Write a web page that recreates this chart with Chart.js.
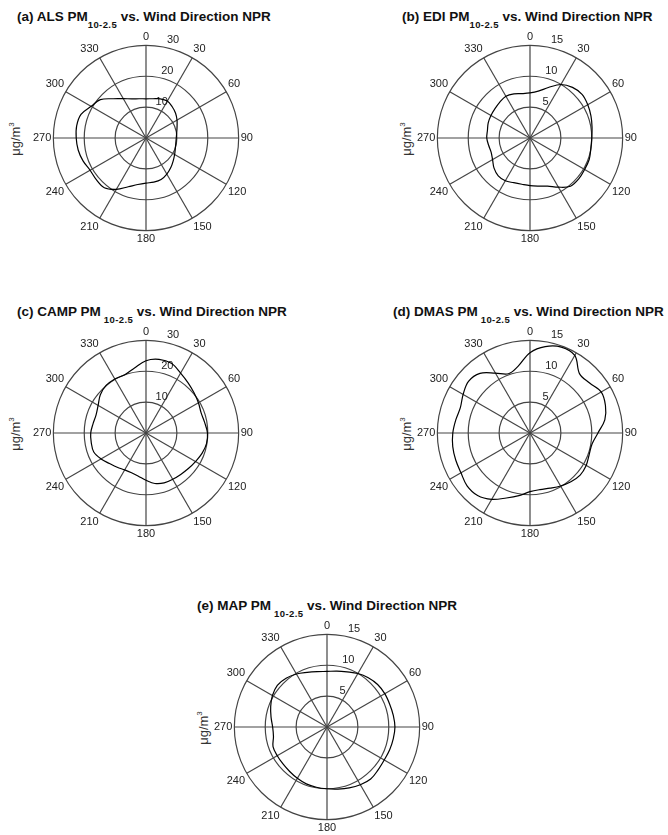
<!DOCTYPE html>
<html>
<head>
<meta charset="utf-8">
<script src="https://cdn.jsdelivr.net/npm/chart.js@4.4.1/dist/chart.umd.min.js"></script>
<style>
  body { margin: 0; background: #fff; }
  #page { position: relative; width: 668px; height: 835px; overflow: hidden; font-family: "Liberation Sans", Arial, sans-serif; }
  .title { position: absolute; font-weight: bold; font-size: 13.5px; line-height: 16px; color: #111; white-space: nowrap; }
  .title .sub { position: relative; top: 7px; font-size: 9.5px; letter-spacing: 0.4px; }
  .title .gap { margin-left: 3px; }
  .ylab { position: absolute; font-size: 13px; color: #333; white-space: nowrap; transform: translate(-50%, -50%) rotate(-90deg); }
  .ylab sup { font-size: 8px; }
  canvas { position: absolute; }
</style>
</head>
<body>
<div id="page">
  <div class="title" style="left:17px; top:9px">(a) ALS PM<span class="sub">10-2.5</span> vs. Wind Direction NPR</div>
  <div class="title" style="left:402px; top:9px">(b) EDI PM<span class="sub">10-2.5</span> vs. Wind Direction NPR</div>
  <div class="title" style="left:17px; top:304px">(c) CAMP PM<span class="sub gap">10-2.5</span> vs. Wind Direction NPR</div>
  <div class="title" style="left:393px; top:304px">(d) DMAS PM<span class="sub gap">10-2.5</span> vs. Wind Direction NPR</div>
  <div class="title" style="left:197px; top:598px">(e) MAP PM<span class="sub gap">10-2.5</span> vs. Wind Direction NPR</div>

  <div class="ylab" style="left:15px; top:139px">&mu;g/m<sup>3</sup></div>
  <div class="ylab" style="left:406px; top:139px">&mu;g/m<sup>3</sup></div>
  <div class="ylab" style="left:15px; top:434px">&mu;g/m<sup>3</sup></div>
  <div class="ylab" style="left:406px; top:434px">&mu;g/m<sup>3</sup></div>
  <div class="ylab" style="left:203px; top:728px">&mu;g/m<sup>3</sup></div>

  <canvas id="chartA" width="227" height="227" style="left:30px; top:25px"></canvas>
  <canvas id="chartB" width="227" height="227" style="left:414px; top:25px"></canvas>
  <canvas id="chartC" width="227" height="227" style="left:30px; top:320px"></canvas>
  <canvas id="chartD" width="227" height="227" style="left:414px; top:320px"></canvas>
  <canvas id="chartE" width="227" height="227" style="left:211px; top:614px"></canvas>
</div>
<script>
// wind direction, degrees
const directions = [0, 10, 20, 30, 40, 50, 60, 70, 80, 90, 100, 110, 120, 130, 140, 150, 160, 170,
  180, 190, 200, 210, 220, 230, 240, 250, 260, 270, 280, 290, 300, 310, 320, 330, 340, 350];

// PM10-2.5 (ug/m3) by direction
const alsValues = [12.7, 12.9, 13.5, 13.8, 13.2, 12.5, 11.6, 10.7, 10.1, 9.8, 9.8, 10.1, 10.7, 11.5, 12.5, 13.5, 14.3, 14.5,
  14.6, 15.3, 16.8, 19.2, 21.0, 21.0, 20.9, 21.7, 22.3, 22.6, 22.8, 22.4, 20.5, 19.3, 16.6, 14.7, 13.5, 12.9];
const ediValues = [7.3, 7.7, 8.7, 10.0, 10.7, 11.0, 10.8, 10.5, 10.2, 10.0, 10.0, 10.2, 10.2, 10.3, 10.2, 9.2, 8.3, 7.9,
  7.7, 7.6, 7.7, 8.0, 8.0, 7.6, 7.0, 6.7, 6.8, 7.0, 7.0, 7.2, 7.3, 7.4, 7.6, 7.8, 7.6, 7.3];
const campValues = [23.4, 24.2, 24.0, 22.4, 21.2, 20.3, 19.6, 19.0, 19.3, 19.9, 19.9, 19.3, 18.5, 17.9, 17.5, 17.3, 17.2, 16.6,
  15.3, 14.2, 13.7, 13.8, 14.5, 15.4, 16.8, 18.0, 18.0, 17.9, 17.4, 17.2, 17.9, 19.3, 20.1, 20.2, 20.1, 21.4];
const dmasValues = [13.0, 14.2, 14.8, 14.5, 12.5, 12.6, 13.3, 13.0, 12.3, 11.0, 10.2, 10.2, 10.5, 10.6, 10.3, 9.9, 9.5, 9.3,
  9.5, 10.3, 11.2, 12.4, 13.2, 13.3, 12.9, 12.8, 12.7, 12.5, 12.2, 12.0, 12.5, 13.0, 12.6, 11.2, 10.2, 11.0];
const mapValues = [9.0, 9.2, 9.5, 10.0, 10.4, 10.7, 10.8, 10.8, 10.9, 11.0, 10.9, 10.8, 10.7, 10.8, 11.0, 10.8, 10.5, 10.2,
  10.0, 9.9, 9.8, 9.6, 9.4, 9.3, 9.3, 9.3, 8.8, 8.8, 9.2, 9.7, 10.2, 10.5, 10.3, 9.9, 9.4, 9.1];

// radial axis: max and ring step
const axis30 = [30, 10];
const axis15 = [15, 5];

const FONT = '"Liberation Sans", Arial, sans-serif';
Chart.defaults.font.family = FONT;

// ring labels sit just above each ring, a little right of the 0 line
const ringLabels = {
  id: 'ringLabels',
  beforeDatasetsDraw(chart) {
    const r = chart.scales.r;
    const ctx = chart.ctx;
    ctx.save();
    ctx.font = '11px ' + FONT;
    ctx.fillStyle = '#222';
    ctx.textAlign = 'center';
    ctx.textBaseline = 'alphabetic';
    r.ticks.forEach((t) => {
      if (t.value <= r.min) return;
      const d = r.getDistanceFromCenterForValue(t.value);
      const frac = (t.value - r.min) / (r.max - r.min);
      ctx.fillText(t.label, r.xCenter + 10 + 17 * frac, r.yCenter - d - 2);
    });
    ctx.restore();
  }
};

function initPolarChart(canvas, values, axis) {
  const options = {
    type: "radar",
    data: {
      labels: directions,
      datasets: [
        {
          data: values,
          borderColor: "#000",
          borderWidth: 1.2,
          backgroundColor: "transparent",
          fill: false,
          tension: 0.35,
          pointRadius: 0,
        },
      ],
    },
    options: {
      responsive: false,
      animation: false,
      plugins: { legend: { display: false }, tooltip: { enabled: false } },
      scales: {
        r: {
          min: 0,
          max: axis[0],
          startAngle: 0,
          ticks: { stepSize: axis[1], display: false },
          grid: { circular: true, color: "#444", lineWidth: 1.2 },
          angleLines: {
            color: "#444",
            lineWidth: (c) => (c.index % 3 === 0 ? 1.2 : 0),
          },
          pointLabels: {
            color: "#222",
            padding: 2,
            font: { size: 11 },
            callback: (label, i) => (i % 3 === 0 ? String(label) : ""),
          },
        },
      },
    },
    plugins: [ringLabels],
  };
  return new Chart(canvas, options);
}

initPolarChart(document.getElementById("chartA"), alsValues, axis30);
initPolarChart(document.getElementById("chartB"), ediValues, axis15);
initPolarChart(document.getElementById("chartC"), campValues, axis30);
initPolarChart(document.getElementById("chartD"), dmasValues, axis15);
initPolarChart(document.getElementById("chartE"), mapValues, axis15);
</script>
</body>
</html>
